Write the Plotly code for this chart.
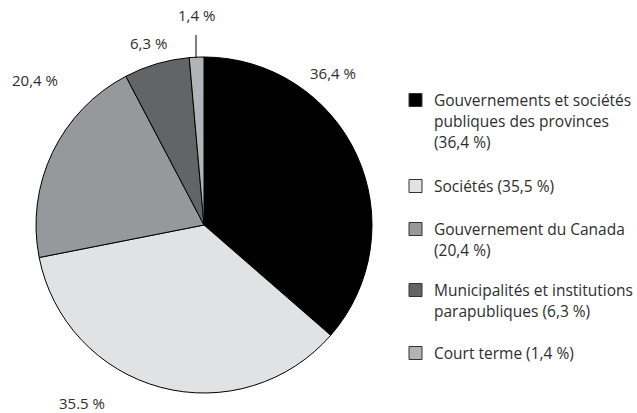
import plotly.graph_objects as go

# Data
categories = [
    "Gouvernements et sociétés publiques des provinces",
    "Sociétés",
    "Gouvernement du Canada",
    "Municipalités et institutions parapubliques",
    "Court terme",
]
values = [36.4, 35.5, 20.4, 6.3, 1.4]
slice_labels = ["36,4 %", "35.5 %", "20,4 %", "6,3 %", "1,4 %"]
legend_lines = [
    ["Gouvernements et sociétés", "publiques des provinces", "(36,4 %)"],
    ["Sociétés (35,5 %)"],
    ["Gouvernement du Canada", "(20,4 %)"],
    ["Municipalités et institutions", "parapubliques (6,3 %)"],
    ["Court terme (1,4 %)"],
]

# Styles
colors = ["#000000", "#e1e2e4", "#97989b", "#636466", "#b2b3b6"]
W, H = 637, 413
FONT = "Open Sans"
TXT = "#2e2e2e"
FS = 15
FS_LEG = 15.5

# Pie geometry (pixels)
cx, cy, r = 204, 225, 168

fig = go.Figure()
fig.add_trace(go.Pie(
    values=values,
    labels=categories,
    sort=False,
    direction="clockwise",
    rotation=0,
    textinfo="none",
    hoverinfo="label+percent",
    marker=dict(colors=colors, line=dict(color="#000000", width=1)),
    showlegend=False,
    domain=dict(x=[(cx - r) / W, (cx + r) / W],
                y=[(H - cy - r) / H, (H - cy + r) / H]),
))

def px(x):
    return x / W

def py(y):
    return 1 - y / H

annotations = []
shapes = []

# Slice labels (pixel positions)
label_pos = [(333, 73), (82, 403), (35, 80), (148, 43), (196, 15)]
for txt, (x, y) in zip(slice_labels, label_pos):
    annotations.append(dict(x=px(x), y=py(y), xref="paper", yref="paper",
                            text=txt, showarrow=False, xanchor="center", yanchor="middle",
                            font=dict(family=FONT, size=FS, color=TXT)))

# Leader line for the small slice
shapes.append(dict(type="line", xref="paper", yref="paper",
                   x0=px(196), x1=px(196), y0=py(35), y1=py(58),
                   line=dict(color="#000000", width=1)))

# Legend (manual)
legend_first_y = [100, 186, 229, 290, 353]
line_h = 21
sq = 13
sq_x = 409
text_x = 432
for i, lines in enumerate(legend_lines):
    y0 = legend_first_y[i]
    shapes.append(dict(type="rect", xref="paper", yref="paper",
                       x0=px(sq_x), x1=px(sq_x + sq),
                       y0=py(y0 - sq / 2), y1=py(y0 + sq / 2),
                       fillcolor=colors[i], line=dict(color="#333333", width=1)))
    for j, ln in enumerate(lines):
        annotations.append(dict(x=px(text_x), y=py(y0 + j * line_h), xref="paper", yref="paper",
                                text=ln, showarrow=False, xanchor="left", yanchor="middle",
                                font=dict(family=FONT, size=FS_LEG, color=TXT)))

fig.update_layout(
    width=W, height=H,
    margin=dict(l=0, r=0, t=0, b=0),
    paper_bgcolor="#ffffff",
    plot_bgcolor="#ffffff",
    annotations=annotations,
    shapes=shapes,
    showlegend=False,
)

fig.write_html("out.html",
               config={"displayModeBar": False},
               post_script="document.body.style.margin='0';document.body.style.overflow='hidden';")
